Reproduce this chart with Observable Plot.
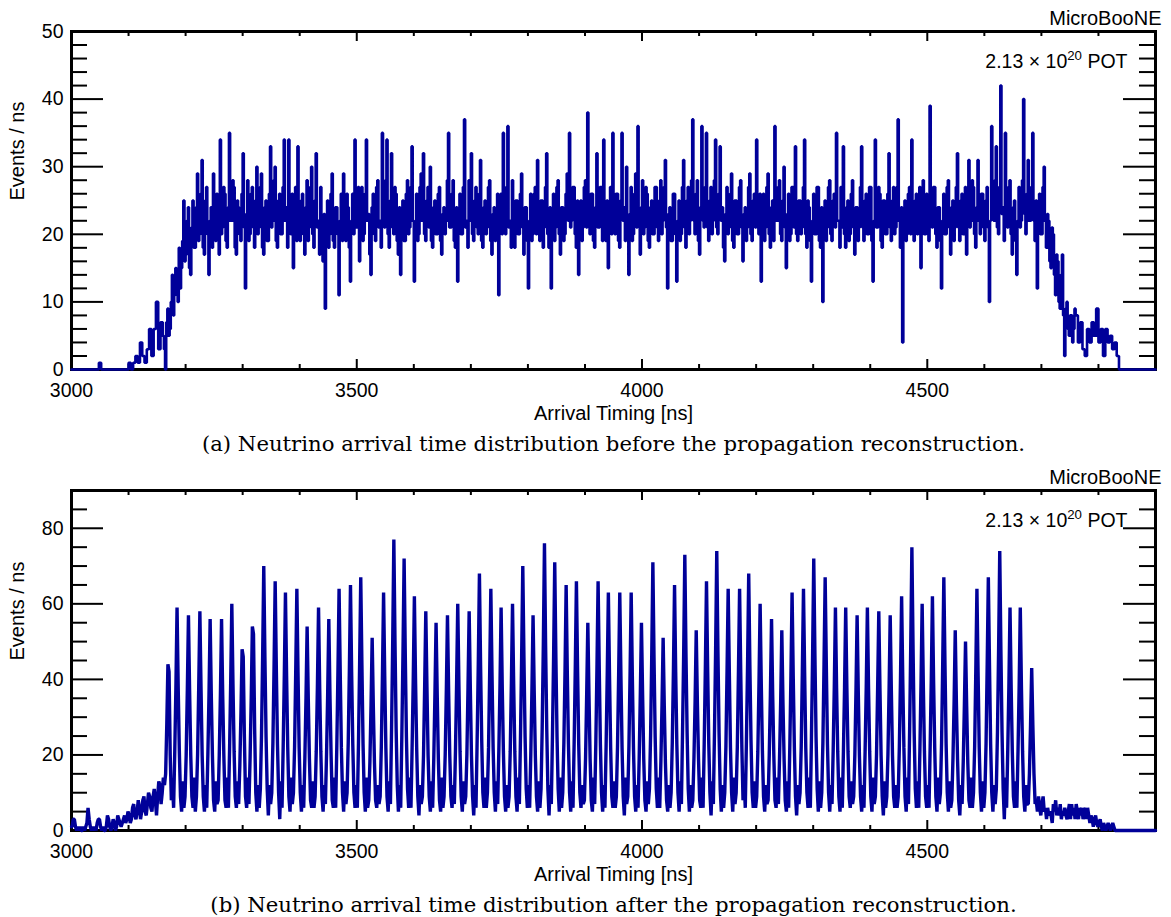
<!DOCTYPE html>
<html><head><meta charset="utf-8">
<script src="https://cdn.jsdelivr.net/npm/d3@7"></script>
<script src="https://cdn.jsdelivr.net/npm/@observablehq/plot@0.6"></script>
<style>
body{margin:0;background:#fff;}
#chart{width:1171px;height:917px;overflow:hidden;}
#chart svg{display:block;}
</style></head><body><div id="chart"></div>
<script>
// ---- tick values ----
const xMajorTicks = [3000, 3500, 4000, 4500];
const xMinorTicks = [3100, 3200, 3300, 3400, 3600, 3700, 3800, 3900, 4100, 4200, 4300, 4400, 4600, 4700, 4800];
const yMajorTicksA = [0, 10, 20, 30, 40, 50];
const yMinorTicksA = [2, 4, 6, 8, 12, 14, 16, 18, 22, 24, 26, 28, 32, 34, 36, 38, 42, 44, 46, 48];
const yMajorTicksB = [0, 20, 40, 60, 80];
const yMinorTicksB = [5, 10, 15, 25, 30, 35, 45, 50, 55, 65, 70, 75, 85];

// ---- labels ----
const experimentLabel = "MicroBooNE";
const potLabel = "2.13 × 10^20 POT";
const xTitle = "Arrival Timing [ns]";
const yTitle = "Events / ns";
const captionA = "(a) Neutrino arrival time distribution before the propagation reconstruction.";
const captionB = "(b) Neutrino arrival time distribution after the propagation reconstruction.";

// ---- (a) before reconstruction ----
// edges: rows of [start time (ns), counts per 4-ns bin ...]
const beforeEdgeRows = [
  [3000, 0,0,0,0,0,0,0,0,0,0, 0,0,1,0,0,0,0,0,0,0],
  [3080, 0,0,0,0,0,1,0,1,2,1, 4,2,1,3,6,2,6,10,3,7],
  [4760, 8,4,7,3,2,6,4,7,5,9, 4,6,2,6,4,5,3,4,2,0],
  [4840, 0]
];
// plateau: rows of [start time (ns), counts per 2-ns bin ...]
const beforePlateauRows = [
  [3160, 5,3,0,7,9,5,6,10,14,8, 11,15,13,10,18,12,15,19,25,16, 17,22,24,15,14,21,25,18,18,24, 29,19,20,26,31,18,17,25,27,20],
  [3240, 14,22,24,18,29,21,19,26,25,17, 34,20,21,27,26,19,18,24,35,22, 22,28,27,18,17,25,24,20,19,26, 32,21,12,23,28,19,20,26,27,21],
  [3320, 18,25,30,20,21,27,29,18,17,24, 25,19,19,26,33,21,22,28,30,19, 18,25,26,20,20,27,34,22,24,18, 34,21,20,26,15,23,27,19,33,22],
  [3400, 19,25,26,20,17,24,28,19,21,27, 30,20,18,25,32,21,22,17,27,20, 16,23,9,21,25,18,20,26,29,19, 18,24,24,20,11,22,26,19,29,21],
  [3480, 19,26,24,18,13,22,26,20,34,21, 21,27,16,23,27,19,20,26,34,22, 23,17,14,24,26,20,19,27,28,21, 22,18,35,23,21,28,34,20,18,25],
  [3560, 32,21,20,27,26,19,17,24,14,22, 25,19,19,26,28,20,21,27,33,22, 13,21,26,19,20,27,29,22,32,20, 19,25,27,21,30,19,18,24,25,20],
  [3640, 20,26,27,19,17,23,24,20,22,28, 35,21,21,26,28,19,18,24,13,22, 26,20,20,27,37,21,22,18,28,22, 32,20,19,25,27,21,20,26,31,19],
  [3720, 18,24,25,20,21,27,28,19,17,23, 24,19,20,26,11,22,26,20,35,22, 20,27,36,21,22,18,28,21,18,25, 25,20,20,26,29,21,17,24,24,19],
  [3800, 12,22,26,19,20,26,27,20,31,21, 19,25,25,18,21,27,32,20,18,24, 12,21,26,19,21,27,28,20,17,24, 24,19,20,26,29,22,35,21,22,27],
  [3880, 27,20,18,25,14,22,25,19,21,27, 28,21,38,22,20,26,26,19,18,24, 32,21,21,27,27,19,34,22,19,25, 15,22,27,20,35,23,20,26,26,19],
  [3960, 18,25,35,22,24,19,30,21,14,23, 27,19,20,26,29,21,36,22,17,24, 28,20,21,27,26,19,18,24,25,20, 20,27,27,21,19,25,28,20,22,27],
  [4040, 31,21,12,23,24,19,19,26,26,20, 13,22,25,19,20,27,31,21,18,25, 27,20,22,28,37,22,20,26,28,19, 17,24,36,22,21,27,35,21,19,25],
  [4120, 27,20,22,28,34,21,20,26,33,22, 24,18,16,23,27,20,21,26,29,19, 18,25,25,20,20,27,28,21,16,23, 24,19,21,27,29,20,19,25,26,21],
  [4200, 34,21,20,26,13,22,26,19,21,27, 29,20,18,24,25,19,36,22,22,27, 28,20,19,25,30,21,15,23,26,19, 20,27,27,21,33,20,19,25,25,20],
  [4280, 21,27,34,20,18,25,24,19,13,22, 26,20,20,27,27,19,18,24,10,21, 25,19,21,27,28,20,19,25,26,21, 35,22,22,18,27,21,33,20,18,24],
  [4360, 25,19,20,26,28,21,17,24,24,19, 21,27,33,21,19,25,26,20,20,27, 27,19,13,22,34,21,21,27,26,19, 18,25,25,20,20,26,32,21,19,25],
  [4440, 27,20,21,27,37,22,18,24,4,21, 25,19,20,26,27,20,34,22,19,25, 26,20,21,27,15,23,28,20,20,26, 25,19,39,22,21,27,27,20,18,24],
  [4520, 24,19,12,22,26,20,20,27,28,21, 17,24,25,19,21,27,32,21,19,25, 26,20,20,27,17,23,31,21,22,28, 27,20,18,24,31,22,20,26,26,21],
  [4600, 19,25,27,21,10,22,36,23,22,28, 33,21,20,27,42,23,24,19,35,22, 21,27,28,20,17,24,25,19,14,22, 27,21,22,28,40,23,20,26,31,22],
  [4680, 22,27,35,22,19,25,12,21,26,20, 20,27,30,22,18,23,22,16,15,21, 20,14,11,17,16,10,9,14,17,8, 2,9,10,6,5,8,8,4,6,9]
];

// ---- (b) after reconstruction: rows of [start time (ns), counts per 2-ns bin ...] ----
const afterRows = [
  [3000, 1,3,3,1,0,1,0,1,0,0, 1,0,1,2,6,3,1,0,1,0, 1,0,2,3,3,1,0,1,0,0, 1,4,3,1,0,1,3,2,0,1,
         4,3,2,1,2,3,4,2,3,5, 4,2,3,6,7,4,3,5,8,6, 3,5,8,9,5,4,7,10,9,6, 5,9,11,8,4,9,13,12,7,10, 14,12,15,28],
  [3168, 44,42,20,8,12,6,21,38],
  [3184, 59,38,21,9,5,13,6,9,20,37],
  [3204, 57,37,20,9,6,14,5,9,20,38],
  [3224, 58,38,20,9,5,12,6,20,36],
  [3242, 56,36,20,8,5,13,7,8,20,36],
  [3262, 56,36,20,8,6,14,6,21,39],
  [3280, 60,39,21,9,6,13,7,17,31],
  [3298, 48,46,25,9,6,14,7,19,35],
  [3316, 54,52,27,10,5,12,6,11,25,46],
  [3336, 70,46,25,11,4,12,7,10,23,43],
  [3356, 66,43,23,10,3,13,6,22,41],
  [3374, 63,41,22,9,5,14,7,10,22,42],
  [3394, 64,42,22,10,5,12,6,19,35],
  [3412, 54,35,19,8,6,13,6,9,21,38],
  [3432, 59,38,21,9,5,12,7,20,36],
  [3450, 56,36,20,8,6,14,6,22,42],
  [3468, 64,42,22,10,5,13,7,10,23,42],
  [3488, 65,42,23,10,6,12,6,23,44],
  [3506, 67,44,23,10,5,14,6,8,18,33],
  [3526, 51,33,18,8,6,12,7,9,22,41],
  [3546, 63,41,22,9,5,13,7,27,50],
  [3564, 77,50,27,12,5,12,6,25,47],
  [3582, 72,47,25,11,6,14,6,22,40],
  [3600, 62,40,22,9,4,12,7,9,20,38],
  [3620, 58,38,20,9,5,13,6,19,36],
  [3638, 55,36,19,8,5,14,6,9,20,37],
  [3658, 57,37,20,9,6,12,7,21,39],
  [3676, 60,39,21,9,5,13,7,9,20,38],
  [3696, 58,38,20,9,4,12,6,24,44],
  [3714, 68,44,24,10,6,14,6,10,22,42],
  [3734, 64,42,22,10,5,13,7,21,38],
  [3752, 59,38,21,9,5,12,6,9,21,39],
  [3772, 60,39,21,9,5,14,7,25,46],
  [3790, 70,46,25,11,6,12,6,20,37],
  [3808, 57,37,20,9,5,13,6,11,27,49],
  [3828, 76,49,27,11,4,12,7,25,46],
  [3846, 71,46,25,11,5,14,6,10,23,42],
  [3866, 65,42,23,10,5,13,6,23,43],
  [3884, 66,43,23,10,6,12,7,8,19,36],
  [3904, 55,36,19,8,5,14,7,23,43],
  [3922, 66,43,23,10,5,12,6,22,41],
  [3940, 63,41,22,9,6,13,6,9,22,41],
  [3960, 63,41,22,9,4,14,7,9,22,41],
  [3980, 63,41,22,9,5,12,6,19,36],
  [3998, 55,36,19,8,5,13,7,11,25,46],
  [4018, 71,46,25,11,6,14,6,18,33],
  [4036, 51,33,18,8,5,12,6,10,23,42],
  [4056, 65,42,23,10,5,13,7,26,47],
  [4074, 73,47,26,11,5,12,6,8,19,34],
  [4094, 53,34,19,8,6,14,6,23,43],
  [4112, 66,43,23,10,4,13,7,26,48],
  [4130, 74,48,26,11,5,12,6,10,22,42],
  [4150, 64,42,22,10,5,14,7,10,22,42],
  [4170, 64,42,22,8,13,6,24,44],
  [4186, 68,44,24,10,6,13,6,9,21,39],
  [4206, 60,39,21,9,5,12,7,8,20,36],
  [4226, 56,36,20,8,6,14,7,19,34],
  [4244, 53,34,19,8,5,13,6,22,41],
  [4262, 63,41,22,9,4,12,7,10,22,42],
  [4282, 64,42,22,10,6,14,6,25,47],
  [4300, 72,47,25,11,5,13,6,10,23,44],
  [4320, 67,44,23,10,5,12,7,21,38],
  [4338, 59,38,21,9,5,14,6,21,38],
  [4356, 59,38,21,9,6,13,7,9,20,37],
  [4376, 57,37,20,9,5,12,6,21,38],
  [4394, 59,38,21,9,5,14,7,9,20,38],
  [4414, 58,38,20,9,4,13,6,9,20,37],
  [4434, 57,37,20,9,6,12,6,9,22,40],
  [4454, 62,40,22,9,5,14,7,26,49],
  [4472, 75,49,26,11,6,13,6,21,39],
  [4490, 60,39,21,9,6,12,6,22,40],
  [4508, 62,40,22,9,5,14,7,10,23,44],
  [4528, 67,44,23,10,5,13,6,8,19,34],
  [4548, 53,34,19,8,4,12,7,18,33],
  [4566, 50,33,18,8,6,14,6,10,22,42],
  [4586, 64,42,22,10,5,13,6,10,23,44],
  [4606, 67,44,23,10,5,12,7,11,26,48],
  [4626, 74,48,26,11,3,14,6,21,38],
  [4644, 59,38,21,9,6,13,6,21,38],
  [4662, 59,38,21,9,5,12,7,7,15,28],
  [4682, 43,28,15,7,8,5,9,6,4,7, 9,5,6,3,6,4,5,4,2,7, 5,8,4,6,4,7,3,5,4,6, 4,3,5,7,3,7,4,6,3,7,
         5,3,6,4,6,3,5,6,3,6, 4,2,4,3,1,3,4,2,1,2, 3,1,0,2,1,0,1,2,1,0, 1,2,1,0],
  [4832, 0]
];

const xDomain = [3000, 4900];

function fillMap(m, rows, binWidth) {
  for (const [t0, ...vals] of rows) vals.forEach((v, i) => m.set(t0 + i * binWidth, v));
  return m;
}
// step series: each bin as a left-edge point, plus closing point at the domain end
function mapToSteps(m, end) {
  const pts = [...m].sort((a, b) => a[0] - b[0]).map(([t, v]) => ({t, v}));
  pts.push({t: end, v: pts[pts.length - 1].v});
  return pts;
}
// polyline through bin centres
function mapToCentres(m, binWidth, start, end) {
  const pts = [...m].sort((a, b) => a[0] - b[0]).map(([t, v]) => ({t: t + binWidth / 2, v}));
  pts.unshift({t: start, v: pts[0].v});
  pts.push({t: end, v: pts[pts.length - 1].v});
  return pts;
}

const beforeMap = fillMap(fillMap(new Map(), beforeEdgeRows, 4), beforePlateauRows, 2);
const beforeSeries = mapToSteps(beforeMap, xDomain[1]);
const afterSeries = mapToCentres(fillMap(new Map(), afterRows, 2), 2, xDomain[0], xDomain[1]);

const W = 1171, ML = 71, MR = 16, MT = 31;
const sans = "'Liberation Sans', Arial, Helvetica, sans-serif";

function panel({data, yDomain, yMajor, yMinor, height, marginBottom, caption, strokeWidth, curve, join}) {
  const plotH = height - MT - marginBottom;
  const plotW = W - ML - MR;
  const tk = {strokeWidth: 2, stroke: "#000"};
  const svg = Plot.plot({
    width: W, height, marginTop: MT, marginBottom, marginLeft: ML, marginRight: MR,
    style: {fontFamily: sans, fontSize: "19.5px", color: "#000", background: "#fff"},
    x: {domain: xDomain, axis: null},
    y: {domain: yDomain, axis: null},
    marks: [
      Plot.tickY(yMajor, {y: d => d, insetRight: plotW - 32, ...tk}),
      Plot.tickY(yMinor, {y: d => d, insetRight: plotW - 16, ...tk}),
      Plot.tickY(yMajor, {y: d => d, insetLeft: plotW - 32, ...tk}),
      Plot.tickY(yMinor, {y: d => d, insetLeft: plotW - 16, ...tk}),
      Plot.tickX(xMajorTicks, {x: d => d, insetTop: plotH - 10, ...tk}),
      Plot.tickX(xMinorTicks, {x: d => d, insetTop: plotH - 5, ...tk}),
      Plot.tickX(xMajorTicks, {x: d => d, insetBottom: plotH - 10, ...tk}),
      Plot.tickX(xMinorTicks, {x: d => d, insetBottom: plotH - 5, ...tk}),
      Plot.axisX(xMajorTicks, {tickSize: 0, tickPadding: 14, label: null, tickFormat: d => String(d), fontSize: 19.5}),
      Plot.axisY(yMajor, {tickSize: 0, tickPadding: 8, label: null, tickFormat: d => String(d), fontSize: 19.5}),
      Plot.frame({strokeWidth: 3, stroke: "#000"}),
      Plot.line(data, {x: "t", y: "v", curve, stroke: "#000099", strokeWidth, strokeLinejoin: join}),
      Plot.text([experimentLabel], {text: d => d, frameAnchor: "top-right", textAnchor: "end", lineAnchor: "bottom", dx: 6, dy: -7, fontSize: 20}),
      Plot.text([potLabel], {text: d => d, frameAnchor: "top-right", textAnchor: "end", lineAnchor: "bottom", dx: -28, dy: 36, fontSize: 19.5}),
      Plot.text([xTitle], {text: d => d, frameAnchor: "bottom", lineAnchor: "bottom", dy: 50, fontSize: 20}),
      Plot.text([yTitle], {text: d => d, frameAnchor: "left", rotate: -90, dx: -54, fontSize: 20}),
      Plot.text([caption], {text: d => d, frameAnchor: "bottom", lineAnchor: "bottom", dy: 81, fontSize: 21.2, fontFamily: "'DejaVu Serif', 'Liberation Serif', serif"})
    ]
  });
  // superscript exponent in the POT label
  d3.select(svg).selectAll("text").filter(function () { return this.textContent === potLabel; }).each(function () {
    const t = d3.select(this);
    t.text(null);
    t.append("tspan").text("2.13 × 10");
    t.append("tspan").attr("dy", -8).attr("font-size", "0.68em").text("20");
    t.append("tspan").attr("dy", 8).text(" POT");
  });
  return svg;
}

const chart = document.getElementById("chart");
chart.appendChild(panel({data: beforeSeries, yDomain: [0, 50], yMajor: yMajorTicksA, yMinor: yMinorTicksA,
  height: 459, marginBottom: 90, caption: captionA, strokeWidth: 2.6, curve: "step-after", join: "miter"}));
chart.appendChild(panel({data: afterSeries, yDomain: [0, 90], yMajor: yMajorTicksB, yMinor: yMinorTicksB,
  height: 458, marginBottom: 87, caption: captionB, strokeWidth: 3.4, curve: "linear", join: "bevel"}));
</script></body></html>
